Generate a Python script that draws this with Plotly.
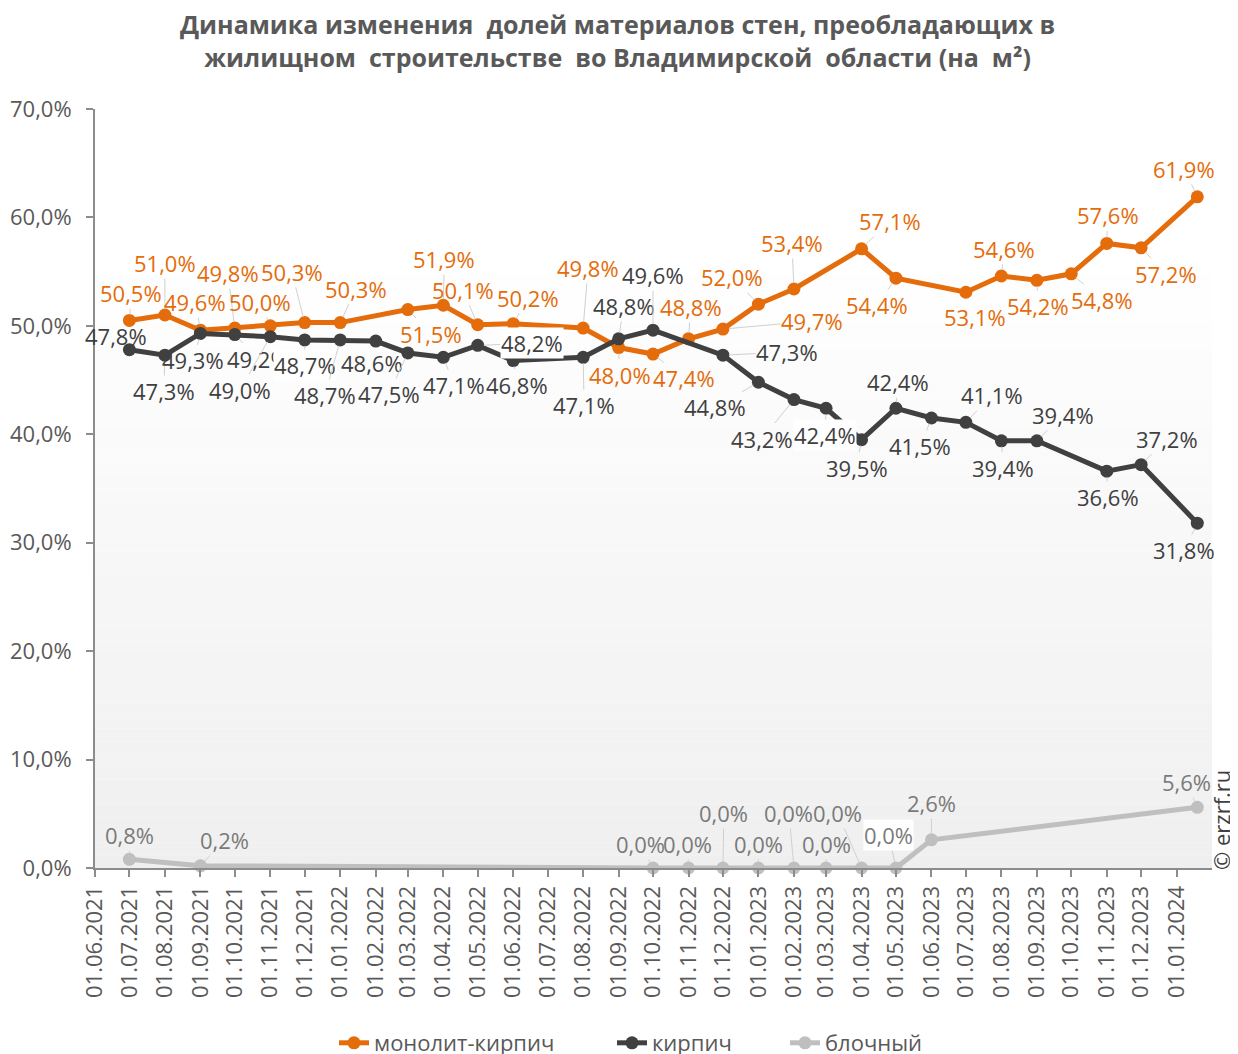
import plotly.graph_objects as go

# ---------------- data ----------------
series_names = ["монолит-кирпич", "кирпич", "блочный"]

dates_mk = ["2021-07-01", "2021-08-01", "2021-09-01", "2021-10-01", "2021-11-01", "2021-12-01",
            "2022-01-01", "2022-03-01", "2022-04-01", "2022-05-01", "2022-06-01", "2022-08-01",
            "2022-09-01", "2022-10-01", "2022-11-01", "2022-12-01", "2023-01-01", "2023-02-01",
            "2023-04-01", "2023-05-01", "2023-07-01", "2023-08-01", "2023-09-01", "2023-10-01",
            "2023-11-01", "2023-12-01", "2024-01-19"]
vals_mk = [50.5, 51.0, 49.6, 49.8, 50.0, 50.3, 50.3, 51.5, 51.9, 50.1, 50.2, 49.8, 48.0, 47.4,
           48.8, 49.7, 52.0, 53.4, 57.1, 54.4, 53.1, 54.6, 54.2, 54.8, 57.6, 57.2, 61.9]

dates_k = ["2021-07-01", "2021-08-01", "2021-09-01", "2021-10-01", "2021-11-01", "2021-12-01",
           "2022-01-01", "2022-02-01", "2022-03-01", "2022-04-01", "2022-05-01", "2022-06-01",
           "2022-08-01", "2022-09-01", "2022-10-01", "2022-12-01", "2023-01-01", "2023-02-01",
           "2023-03-01", "2023-04-01", "2023-05-01", "2023-06-01", "2023-07-01", "2023-08-01",
           "2023-09-01", "2023-11-01", "2023-12-01", "2024-01-19"]
vals_k = [47.8, 47.3, 49.3, 49.2, 49.0, 48.7, 48.7, 48.6, 47.5, 47.1, 48.2, 46.8, 47.1, 48.8,
          49.6, 47.3, 44.8, 43.2, 42.4, 39.5, 42.4, 41.5, 41.1, 39.4, 39.4, 36.6, 37.2, 31.8]

dates_b = ["2021-07-01", "2021-09-01", "2022-10-01", "2022-11-01", "2022-12-01", "2023-01-01",
           "2023-02-01", "2023-03-01", "2023-04-01", "2023-05-01", "2023-06-01", "2024-01-19"]
vals_b = [0.8, 0.2, 0.0, 0.0, 0.0, 0.0, 0.0, 0.0, 0.0, 0.0, 2.6, 5.6]

title_lines = ["Динамика изменения  долей материалов стен, преобладающих в",
               "жилищном  строительстве  во Владимирской  области (на  м²)"]
copyright_text = "© erzrf.ru"

# ---------------- styling ----------------
colors = ["#E46C0A", "#404040", "#BFBFBF"]
label_colors = ["#E46C0A", "#404040", "#7A7A7A"]

# data-label pixel offsets (label centre relative to point)
off_mk = [(2, -27), (0, -52), (-5, -28), (-7, -55), (-10, -24), (-13, -51), (16, -34), (23, 24),
          (1, -46), (-15, -35), (15, -26), (5, -60), (1, 27), (31, 24), (2, -32), (89, -8),
          (-26, -27), (-2, -46), (28, -28), (-19, 27), (9, 25), (3, -27), (1, 26), (31, 26),
          (1, -28), (25, 26), (-13, -28)]
off_k = [(-13, -14), (-1, 36), (-7, 27), (23, 24), (-30, 53), (0, 25), (-15, 55), (-4, 22),
         (-19, 41), (11, 28), (54, -2), (4, 24), (1, 48), (5, -33), (0, -55), (64, -3),
         (-43, 25), (-32, 39), (-1, 27), (-5, 28), (2, -26), (-11, 28), (26, -27), (2, 27),
         (26, -26), (1, 26), (26, -26), (-13, 27)]
off_b = [(0, -24), (24, -26), (-13, -24), (-1, -24), (1, -55), (0, -24), (-5, -55), (0, -24),
         (-24, -55), (-7, -33), (0, -37), (-11, -25)]
# labels drawn with white box
white_k = {5, 10, 18}
white_b = {9}

FONT = "'Open Sans', Roboto, sans-serif"
AX_COLOR = "#8C8C8C"
TXT_COLOR = "#595959"

# page body has an 8px margin: figure is 8px smaller, everything measured from (8,8)
W, H = 1230, 1046
ML, MR, MT, MB = 87, 26, 101, 186

fig = go.Figure()
all_dates = [dates_mk, dates_k, dates_b]
all_vals = [vals_mk, vals_k, vals_b]
legend_ids = ["legend", "legend2", "legend3"]
for i in range(3):
    fig.add_trace(go.Scatter(
        x=all_dates[i], y=all_vals[i], name=series_names[i], mode="lines+markers",
        line=dict(color=colors[i], width=5),
        marker=dict(color=colors[i], size=13),
        cliponaxis=False, legend=legend_ids[i],
    ))


def fmt(v):
    return f"{v:.1f}".replace(".", ",") + "%"


annotations = []
all_offs = [off_mk, off_k, off_b]
all_white = [set(), white_k, white_b]
for i in range(3):
    for j, (d, v) in enumerate(zip(all_dates[i], all_vals[i])):
        ax, ay = all_offs[i][j]
        annotations.append(dict(
            x=d, y=v, xref="x", yref="y", text=fmt(v),
            showarrow=True, arrowhead=0, arrowwidth=1, arrowcolor="#D0D0D0",
            ax=ax, ay=ay, axref="pixel", ayref="pixel", standoff=6,
            font=dict(family=FONT, size=22, color=label_colors[i]),
            bgcolor="white" if j in all_white[i] else "rgba(0,0,0,0)",
            borderpad=0,
        ))

pw = W - ML - MR
ph = H - MT - MB


def px_x(px):
    return (px - 8 - ML) / pw


def px_y(py):
    return (H - MB - (py - 8)) / ph


# title
annotations.append(dict(
    text="<br>".join(title_lines), xref="paper", yref="paper",
    x=px_x(617), y=px_y(41), xanchor="center", yanchor="middle", showarrow=False,
    font=dict(family=FONT, size=25, color=TXT_COLOR, weight="bold"),
))
# copyright
annotations.append(dict(
    text=copyright_text, xref="paper", yref="paper", x=px_x(1221), y=px_y(820),
    textangle=-90, showarrow=False, font=dict(family=FONT, size=22, color="#404040"),
    xanchor="center", yanchor="middle",
))

# gradient plot background
shapes = []
n = 60
for k in range(n):
    y0, y1 = k / n, (k + 1) / n
    t = (y0 + y1) / 2
    f = min(t / 0.8, 1.0)
    c = round(239 + (255 - 239) * f)
    shapes.append(dict(type="rect", xref="x domain", yref="y domain", x0=0, x1=1, y0=y0, y1=y1,
                       fillcolor=f"rgb({c},{c},{c})", line=dict(width=0), layer="below"))

# legend text start positions (page px) of the three entries
legend_text_x = [375, 653, 826]
legend_common = dict(orientation="h", xanchor="left", y=px_y(1043), yanchor="middle",
                     font=dict(family=FONT, size=22, color=TXT_COLOR), bgcolor="rgba(0,0,0,0)")

fig.update_layout(
    width=W, height=H,
    margin=dict(l=ML, r=MR, t=MT, b=MB, autoexpand=False),
    paper_bgcolor="white", plot_bgcolor="white",
    separators=", ",
    font=dict(family=FONT, size=22, color=TXT_COLOR),
    xaxis=dict(
        type="date", range=["2021-06-01", "2024-01-31 20:00"],
        tickmode="linear", tick0="2021-06-01", dtick="M1", tickformat="%d.%m.%Y",
        tickangle=-90, ticks="outside", ticklen=7, tickcolor=AX_COLOR, tickwidth=1.5,
        showline=True, linecolor=AX_COLOR, linewidth=2, showgrid=False, zeroline=False,
        tickfont=dict(family=FONT, size=22, color=TXT_COLOR),
    ),
    yaxis=dict(
        range=[0, 70], dtick=10, tickformat=".1f", ticksuffix="%",
        ticks="outside", ticklen=7, tickcolor=AX_COLOR, tickwidth=1.5,
        showline=True, linecolor=AX_COLOR, linewidth=2, showgrid=False, zeroline=False,
        tickfont=dict(family=FONT, size=22, color=TXT_COLOR), ticklabelstandoff=10,
    ),
    legend=dict(x=px_x(legend_text_x[0] - 41), **legend_common),
    legend2=dict(x=px_x(legend_text_x[1] - 41), **legend_common),
    legend3=dict(x=px_x(legend_text_x[2] - 41), **legend_common),
    annotations=annotations,
    shapes=shapes,
    showlegend=True,
)

fig.write_html("out.html")
